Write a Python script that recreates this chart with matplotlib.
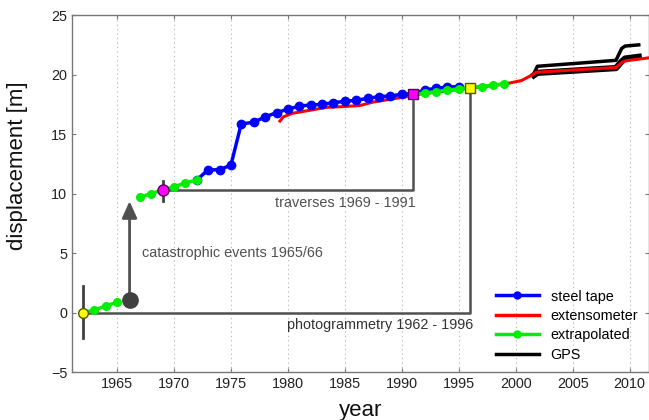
import numpy as np
import matplotlib
matplotlib.use("Agg")
import matplotlib.pyplot as plt

plt.rcParams['font.family'] = ['Liberation Sans', 'DejaVu Sans']

# steel tape measurements
steel_year = [1972, 1973, 1974, 1975, 1975.9, 1977, 1978, 1979, 1980, 1981, 1982,
              1983, 1984, 1985, 1986, 1987, 1988, 1989, 1990, 1991, 1992, 1993,
              1994, 1995]
steel_disp = [11.15, 12.0, 12.0, 12.4, 15.85, 16.0, 16.45, 16.8, 17.1, 17.35, 17.45,
              17.5, 17.65, 17.75, 17.85, 18.0, 18.15, 18.2, 18.35, 18.4, 18.7, 18.85,
              18.95, 19.0]

# extensometer
ext_year = [1979.3, 1979.6, 1980.4, 1981.9, 1983.4, 1984.6, 1986.3, 1987.5, 1990.4,
            1991, 1995, 1999, 2000.5, 2001.3, 2001.8, 2008.8, 2009.3, 2009.6, 2012]
ext_disp = [16.1, 16.45, 16.75, 17.0, 17.25, 17.3, 17.4, 17.7, 18.15,
            18.3, 18.75, 19.2, 19.5, 19.9, 20.2, 20.6, 21.0, 21.15, 21.45]

# extrapolated pieces
extra1_year = [1962, 1963, 1964, 1965]
extra1_disp = [0.0, 0.2, 0.57, 0.86]
extra2_year = [1967, 1968, 1969, 1970, 1971, 1972]
extra2_disp = [9.7, 10.0, 10.3, 10.57, 10.9, 11.15]
extra3_year = [1991, 1992, 1993, 1994, 1995, 1996, 1997, 1998, 1999]
extra3_disp = [18.35, 18.45, 18.55, 18.7, 18.8, 18.9, 19.0, 19.1, 19.25]

# GPS
gps1_year = [2001.5, 2001.9, 2008.8, 2009.3, 2009.6, 2010.8]
gps1_disp = [19.9, 20.7, 21.2, 22.2, 22.4, 22.5]
gps2_year = [2001.6, 2001.9, 2008.8, 2009.3, 2009.6, 2010.8]
gps2_disp = [19.95, 20.15, 20.55, 21.1, 21.35, 21.5]

# reference points
photo_year = [1962, 1996]
photo_disp = [0.0, 18.9]
trav_year = [1969, 1991]
trav_disp = [10.3, 18.35]
event_year = 1966.1
event_disp = [1.05, 9.6]

gray = '#505050'

fig = plt.figure(figsize=(6.49, 4.2), dpi=100)
ax = fig.add_axes([0.111, 0.114, 0.889, 0.85])

# brackets
ax.plot([photo_year[0], photo_year[1], photo_year[1]],
        [photo_disp[0], photo_disp[0], photo_disp[1]], color=gray, lw=1.8, zorder=2)
ax.plot([trav_year[0], trav_year[1], trav_year[1]],
        [trav_disp[0], trav_disp[0], trav_disp[1]], color=gray, lw=1.8, zorder=2)

# error bars
ax.plot([photo_year[0]] * 2, [-2.1, 2.2], color='#404040', lw=2, zorder=3)
ax.plot([trav_year[0]] * 2, [9.35, 11.1], color='#404040', lw=2, zorder=3)

# catastrophic event arrow
ax.annotate('', xy=(event_year, event_disp[1]), xytext=(event_year, event_disp[0]),
            arrowprops=dict(arrowstyle='-|>,head_width=0.45,head_length=1.0',
                            color=gray, lw=2), zorder=3)
ax.plot(event_year, event_disp[0], 'o', color='#404040', ms=11, zorder=4)

# data series
ax.plot(gps1_year, gps1_disp, color='black', lw=2.5, zorder=4)
ax.plot(gps2_year, gps2_disp, color='black', lw=4.5, zorder=4)
ax.plot(ext_year, ext_disp, color='red', lw=2.2, zorder=5)
ax.plot(steel_year, steel_disp, color='blue', lw=2.5, marker='o', ms=6, zorder=6)
for yr, d in [(extra1_year, extra1_disp), (extra2_year, extra2_disp), (extra3_year, extra3_disp)]:
    ax.plot(yr, d, color='#00ee00', lw=2.5, marker='o', ms=5.5, zorder=7)

# special markers
ax.plot(photo_year[0], photo_disp[0], 'o', color='yellow', mec='#555500', ms=7, zorder=8)
ax.plot(photo_year[1], photo_disp[1], 's', color='yellow', mec='#555500', ms=6.5, zorder=8)
ax.plot(trav_year[0], trav_disp[0], 'o', color='magenta', mec='#550055', ms=8, zorder=8)
ax.plot(trav_year[1], trav_disp[1], 's', color='magenta', mec='#550055', ms=6.5, zorder=8)

# annotation text
ax.text(1991.2, 9.2, 'traverses 1969 - 1991', color=gray, fontsize=10.4,
        ha='right', va='center')
ax.text(1996.3, -1.05, 'photogrammetry 1962 - 1996', color='#333333', fontsize=10.4,
        ha='right', va='center')
ax.text(1967.2, 5.0, 'catastrophic events 1965/66', color=gray, fontsize=10.4,
        ha='left', va='center')

# legend
handles = [
    plt.Line2D([], [], color='blue', lw=2.5, marker='o', ms=5),
    plt.Line2D([], [], color='red', lw=2.5),
    plt.Line2D([], [], color='#00ee00', lw=2.5, marker='o', ms=5),
    plt.Line2D([], [], color='black', lw=2.5),
]
ax.legend(handles, ['steel tape', 'extensometer', 'extrapolated', 'GPS'],
          loc='lower right', bbox_to_anchor=(1.004, -0.008), frameon=False,
          fontsize=10.4, handlelength=3.0, handletextpad=0.8, labelspacing=0.38)

ax.set_xlim(1961.05, 2011.7)
ax.set_ylim(-5, 25)
ax.set_xticks(np.arange(1965, 2011, 5))
ax.set_yticks(np.arange(-5, 26, 5))
ax.grid(axis='x', color='#b0b0b0', ls=(0, (1, 3)), lw=0.8)
ax.tick_params(direction='in', top=True, right=True, length=3, labelsize=10.4,
               colors='#777777', labelcolor='#222222')
for s in ax.spines.values():
    s.set_color('#777777')
    s.set_linewidth(1.0)

ax.set_ylabel('displacement [m]', fontsize=16, color='#111111')
ax.yaxis.set_label_coords(-0.076, 0.578)
ax.set_xlabel('year', fontsize=16, color='#111111')
ax.xaxis.set_label_coords(0.5, -0.077)

fig.savefig('out.png', dpi=100)
